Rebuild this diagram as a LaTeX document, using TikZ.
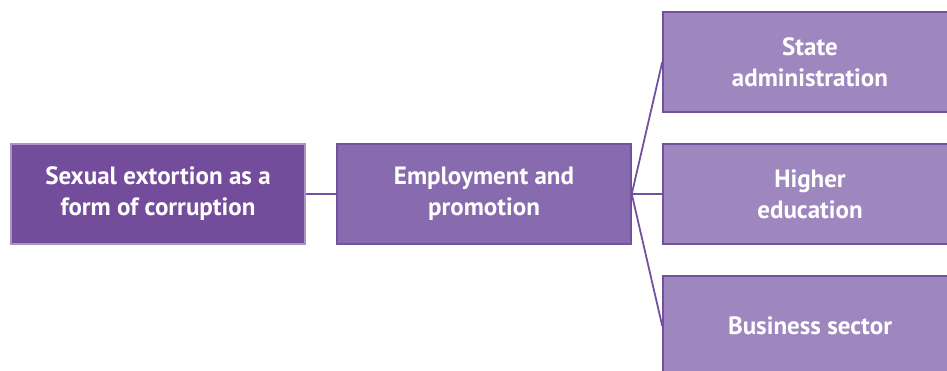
\documentclass[tikz,border=0pt]{standalone}
\usepackage{fontspec}
\setmainfont{PT Sans}
\definecolor{darkviolet}{HTML}{734C9B}
\definecolor{midviolet}{HTML}{886AAF}
\definecolor{lightviolet}{HTML}{9E87BF}
\definecolor{edgeviolet}{HTML}{7350A0}
\tikzset{
  box/.style={draw, line width=1.5pt, minimum width=294pt, minimum height=100pt,
    inner sep=0pt, align=center, text=white, font=\bfseries\fontsize{25}{31}\selectfont},
  rootbox/.style={box, fill=darkviolet, draw=darkviolet!60!white},
  midbox/.style={box, fill=midviolet, draw=edgeviolet},
  leafbox/.style={box, fill=lightviolet, draw=edgeviolet}
}
\begin{document}
\begin{tikzpicture}[x=1pt, y=1pt]
      \useasboundingbox (0,0) rectangle (947,-370);
      \draw
        (158,-194) node[rootbox] (root){Sexual extortion as a\\form of corruption}
        (484,-194) node[midbox] (work){Employment and\\promotion}
        (810,-62) node[leafbox] (state){State\\administration}
        (810,-194) node[leafbox] (higher){Higher\\education}
        (810,-326) node[leafbox] (business){Business sector};
      \begin{scope}[-, draw=edgeviolet, line width=1.8pt]
        \draw (root) to (work);
        \draw (work.east) to (state.west);
        \draw (work.east) to (higher.west);
        \draw (work.east) to (business.west);
      \end{scope}
    \end{tikzpicture}
\end{document}
